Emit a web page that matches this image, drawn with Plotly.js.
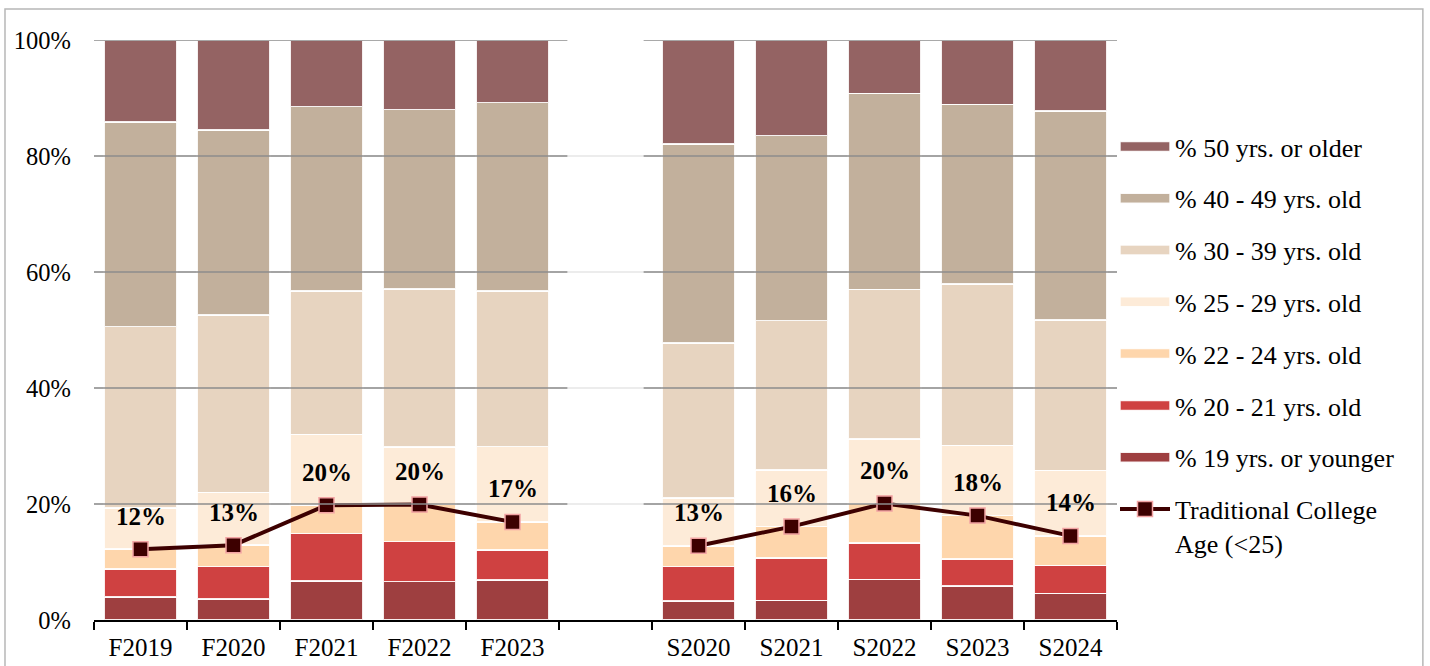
<!DOCTYPE html>
<html>
<head>
<meta charset="utf-8">
<script src="https://cdn.plot.ly/plotly-3.0.1.min.js"></script>
<style>html,body{margin:0;padding:0;background:#fff;}#chart{width:1430px;height:666px;}</style>
</head>
<body>
<div id="chart"></div>
<script>
// Categories (blank slot separates fall and spring terms)
const categories = ["F2019","F2020","F2021","F2022","F2023"," ","S2020","S2021","S2022","S2023","S2024"];

// Share of students by age group (%)
const age19under = [4.0, 3.6, 6.7, 6.6, 6.9, null, 3.3, 3.4, 7.0, 5.9, 4.6];
const age20to21  = [4.8, 5.6, 8.2, 6.9, 5.2, null, 5.9, 7.3, 6.3, 4.6, 4.8];
const age22to24  = [3.4, 3.7, 4.9, 6.4, 4.8, null, 3.6, 5.4, 6.8, 7.5, 5.1];
const age25to29  = [7.1, 9.1, 12.2, 9.9, 13.0, null, 8.2, 9.8, 11.1, 12.1, 11.3];
const age30to39  = [31.3, 30.6, 24.7, 27.3, 26.8, null, 26.8, 25.7, 25.8, 27.8, 25.9];
const age40to49  = [35.3, 31.9, 31.8, 30.9, 32.5, null, 34.3, 31.9, 33.8, 31.0, 36.1];
const age50over  = [14.1, 15.5, 11.5, 12.0, 10.8, null, 17.9, 16.5, 9.2, 11.1, 12.2];

// Traditional college age (<25) share (%)
const tradAge = [12.2, 12.9, 19.8, 19.9, 16.9, null, 12.8, 16.1, 20.1, 18.0, 14.5];
const tradLabels = ["12%","13%","20%","20%","17%","","13%","16%","20%","18%","14%"];

const yTicks = [0, 20, 40, 60, 80, 100];
const yTickText = ["0%","20%","40%","60%","80%","100%"];

const seriesNames = ["% 19 yrs. or younger","% 20 - 21 yrs. old","% 22 - 24 yrs. old","% 25 - 29 yrs. old","% 30 - 39 yrs. old","% 40 - 49 yrs. old","% 50 yrs. or older"];
const seriesData = [age19under, age20to21, age22to24, age25to29, age30to39, age40to49, age50over];
const seriesColors = ["#9e3f40","#cf4141","#fed6ac","#fdebd8","#e7d4c0","#c2b09c","#946363"];

const serif = "Liberation Serif";

const traces = [];
seriesData.forEach((d, i) => {
  traces.push({
    type: "bar",
    name: seriesNames[i],
    x: categories,
    y: d,
    marker: {color: seriesColors[i], line: {color: "rgba(255,255,255,0.9)", width: 1.5}},
    legendgroup: "g" + i,
    legendrank: 7 - i,
    hoverinfo: "skip"
  });
});
traces.push({
  type: "scatter",
  mode: "lines+markers",
  name: "Traditional College<br>Age (<25)",
  x: categories,
  y: tradAge,
  connectgaps: false,
  line: {color: "#3d0000", width: 4},
  marker: {symbol: "square", size: 15, color: "#3d0000", line: {color: "#f2a3a3", width: 1.5}},
  legendgroup: "g7",
  legendrank: 8,
  hoverinfo: "skip"
});

// Gridlines drawn over the bars (two panels)
const shapes = [];
[20, 40, 60, 80, 100].forEach(v => {
  shapes.push({type: "line", layer: "above", xref: "x", yref: "y", x0: -0.5, x1: 4.59, y0: v, y1: v,
    line: {color: "rgba(140,140,140,0.75)", width: 2}});
  shapes.push({type: "line", layer: "above", xref: "x", yref: "y", x0: 5.41, x1: 10.5, y0: v, y1: v,
    line: {color: "rgba(140,140,140,0.75)", width: 2}});
});
// Outer chart border
shapes.push({type: "rect", xref: "paper", yref: "paper", x0: -0.087, x1: 1.299, y0: -0.1, y1: 1.0534,
  line: {color: "#b7b7b7", width: 1.5}, fillcolor: "rgba(0,0,0,0)", layer: "below"});

const annotations = [];
categories.forEach((c, i) => {
  if (tradAge[i] === null) return;
  annotations.push({x: c, y: tradAge[i], xref: "x", yref: "y", text: tradLabels[i], showarrow: false,
    yshift: 33, font: {family: serif, size: 25, color: "#000", weight: "bold"}});
});

const layout = {
  width: 1430, height: 666,
  margin: {l: 94, r: 313, t: 40, b: 46, autoexpand: false},
  paper_bgcolor: "#fff", plot_bgcolor: "#fff",
  barmode: "stack",
  bargap: 0.21,
  font: {family: serif, color: "#000", size: 24},
  showlegend: true,
  legend: {
    xref: "container", yref: "container",
    x: 1115/1430, y: 1 - 123/666, xanchor: "left", yanchor: "top",
    traceorder: "grouped", tracegroupgap: 15,
    font: {family: serif, size: 26, color: "#000"},
    itemwidth: 50, valign: "top", bgcolor: "rgba(0,0,0,0)",
    maxheight: 620
  },
  xaxis: {
    type: "category",
    range: [-0.5, 10.5],
    automargin: false,
    showline: true, linecolor: "#000", linewidth: 2,
    ticks: "outside", ticklen: 8, tickwidth: 2, tickcolor: "#000",
    tickson: "boundaries",
    ticklabelstandoff: 4,
    showgrid: false, zeroline: false,
    tickfont: {family: serif, size: 25, color: "#000"},
    fixedrange: true
  },
  yaxis: {
    automargin: false,
    range: [0, 100],
    tickvals: yTicks, ticktext: yTickText,
    showgrid: true, gridcolor: "#ececec", gridwidth: 2,
    zeroline: false, showline: false, ticks: "",
    ticklabelstandoff: 22,
    tickfont: {family: serif, size: 24.5, color: "#000"},
    fixedrange: true
  },
  shapes: shapes,
  annotations: annotations
};

function widenSwatches() {
  // Widen bar legend swatches to the width of the line swatch
  let x0 = 5, x1 = 53;
  const line = document.querySelector("g.legend path.js-line");
  if (line) {
    try { const b = line.getBBox(); if (b.width > 0) { x0 = b.x; x1 = b.x + b.width; } } catch (e) {}
  }
  document.querySelectorAll("g.legend g.traces").forEach(t => {
    const pts = t.querySelector("g.legendpoints");
    if (!pts || t.querySelector("path.js-line")) return;
    pts.querySelectorAll("path").forEach(p => {
      p.setAttribute("d", "M" + x0 + ",5H" + x1 + "V-5H" + x0 + "Z");
      p.removeAttribute("transform");
    });
  });
}

Plotly.newPlot("chart", traces, layout, {displayModeBar: false, staticPlot: true});
widenSwatches();
Promise.resolve().then(widenSwatches);
</script>
</body>
</html>
